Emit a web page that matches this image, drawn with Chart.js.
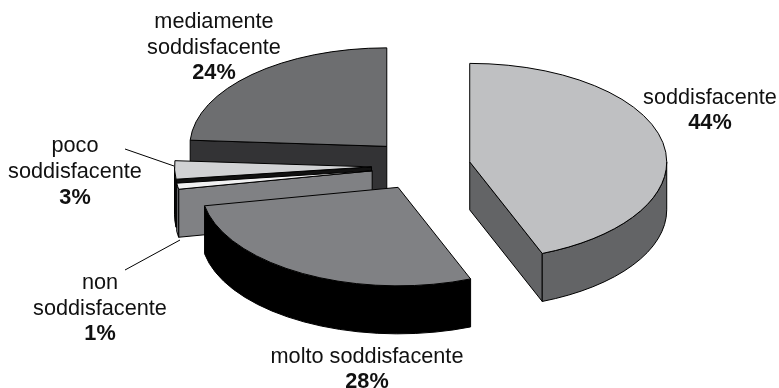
<!DOCTYPE html>
<html>
<head>
<meta charset="utf-8">
<style>
    html, body { margin: 0; padding: 0; background: #fff; }
    #chartBox { position: relative; width: 779px; height: 388px; }
</style>
<script src="https://cdn.jsdelivr.net/npm/chart.js@4"></script>
</head>
<body>
<div id="chartBox"><canvas id="pieCanvas"></canvas></div>
<script>
// clockwise from 12 o'clock
const categories = ['soddisfacente', 'molto soddisfacente', 'non soddisfacente', 'poco soddisfacente', 'mediamente soddisfacente'];
const percentages = [44, 28, 1, 3, 24];
const labelLines = [['soddisfacente'], ['molto soddisfacente'], ['non', 'soddisfacente'], ['poco', 'soddisfacente'], ['mediamente', 'soddisfacente']];

const topColors = ['#bfc0c2', '#808184', '#f1f1f2', '#d1d2d4', '#6d6e70'];
const sideColors = ['#636466', '#000000', '#808184', '#111111', '#333335'];
const explode = [44, 59, 55, 55, 58];
const nudgeY = [-1.5, -6, -1, -1.5, 0];

const squash = 0.5;
const depth = 48;

// where each label sits: centre x, first baseline y, line height
const labelPlaces = [
    {x: 710, y: 104, lh: 25},
    {x: 367, y: 363, lh: 25},
    {x: 100, y: 289, lh: 25.5},
    {x: 75, y: 152, lh: 26},
    {x: 214, y: 28, lh: 25.5}
];
const leaders = {
    2: [[125, 270], [180, 240]],
    3: [[125, 149], [174, 166]]
};

function drawSlice(ctx, arc, i) {
    let mid = (arc.startAngle + arc.endAngle) / 2;
    let x = arc.x + Math.cos(mid) * explode[i];
    let y = arc.y + Math.sin(mid) * explode[i] * squash + nudgeY[i];
    let r = arc.outerRadius;
    let ry = r * squash;

    ctx.strokeStyle = '#000';
    ctx.lineWidth = 1;
    ctx.lineJoin = 'round';
    ctx.fillStyle = sideColors[i];

    // cut faces, only the ones turned towards the viewer
    [[arc.startAngle, Math.cos(arc.startAngle) < 0], [arc.endAngle, Math.cos(arc.endAngle) > 0]].forEach(face => {
        if (!face[1]) return;
        let px = x + Math.cos(face[0]) * r;
        let py = y + Math.sin(face[0]) * ry;
        ctx.beginPath();
        ctx.moveTo(x, y);
        ctx.lineTo(px, py);
        ctx.lineTo(px, py + depth);
        ctx.lineTo(x, y + depth);
        ctx.closePath();
        ctx.fill();
        ctx.stroke();
    });

    // outer wall, front half of the ellipse only
    let from = Math.max(arc.startAngle, 0);
    let to = Math.min(arc.endAngle, Math.PI);
    if (to > from) {
        ctx.beginPath();
        ctx.ellipse(x, y, r, ry, 0, from, to);
        ctx.ellipse(x, y + depth, r, ry, 0, to, from, true);
        ctx.closePath();
        ctx.fill();
        ctx.stroke();
    }

    // the top is the library's own arc, squashed and moved out
    ctx.save();
    ctx.translate(x, y);
    ctx.scale(1, squash);
    ctx.translate(-arc.x, -arc.y);
    arc.draw(ctx);
    ctx.restore();

    ctx.beginPath();
    ctx.moveTo(x, y);
    ctx.ellipse(x, y, r, ry, 0, arc.startAngle, arc.endAngle);
    ctx.closePath();
    ctx.stroke();
}

const pie3d = {
    id: 'pie3d',
    beforeDatasetDraw(chart) {
        let ctx = chart.ctx;
        let arcs = chart.getDatasetMeta(0).data;
        let order = arcs.map((a, i) => i);
        order.sort((p, q) => {
            let mp = (arcs[p].startAngle + arcs[p].endAngle) / 2;
            let mq = (arcs[q].startAngle + arcs[q].endAngle) / 2;
            return Math.sin(mp) - Math.sin(mq);
        });
        order.forEach(i => drawSlice(ctx, arcs[i], i));
        return false;
    },
    afterDraw(chart) {
        let ctx = chart.ctx;
        ctx.save();
        ctx.fillStyle = '#111';
        ctx.textAlign = 'center';
        labelLines.forEach((lines, i) => {
            let place = labelPlaces[i];
            ctx.font = '21.7px "Liberation Sans"';
            lines.forEach((line, n) => ctx.fillText(line, place.x, place.y + n * place.lh));
            ctx.font = 'bold 21.7px "Liberation Sans"';
            ctx.fillText(percentages[i] + '%', place.x, place.y + lines.length * place.lh);
        });
        ctx.strokeStyle = '#000';
        ctx.lineWidth = 1;
        Object.values(leaders).forEach(l => {
            ctx.beginPath();
            ctx.moveTo(l[0][0], l[0][1]);
            ctx.lineTo(l[1][0], l[1][1]);
            ctx.stroke();
        });
        ctx.restore();
    }
};

new Chart(document.getElementById('pieCanvas'), {
    type: 'pie',
    data: {
        labels: categories,
        datasets: [{
            data: percentages,
            backgroundColor: topColors,
            borderWidth: 0
        }]
    },
    options: {
        responsive: true,
        maintainAspectRatio: false,
        animation: false,
        radius: 197,
        layout: {padding: {left: 74, bottom: 53}},
        plugins: {legend: {display: false}, tooltip: {enabled: false}}
    },
    plugins: [pie3d]
});
</script>
</body>
</html>
